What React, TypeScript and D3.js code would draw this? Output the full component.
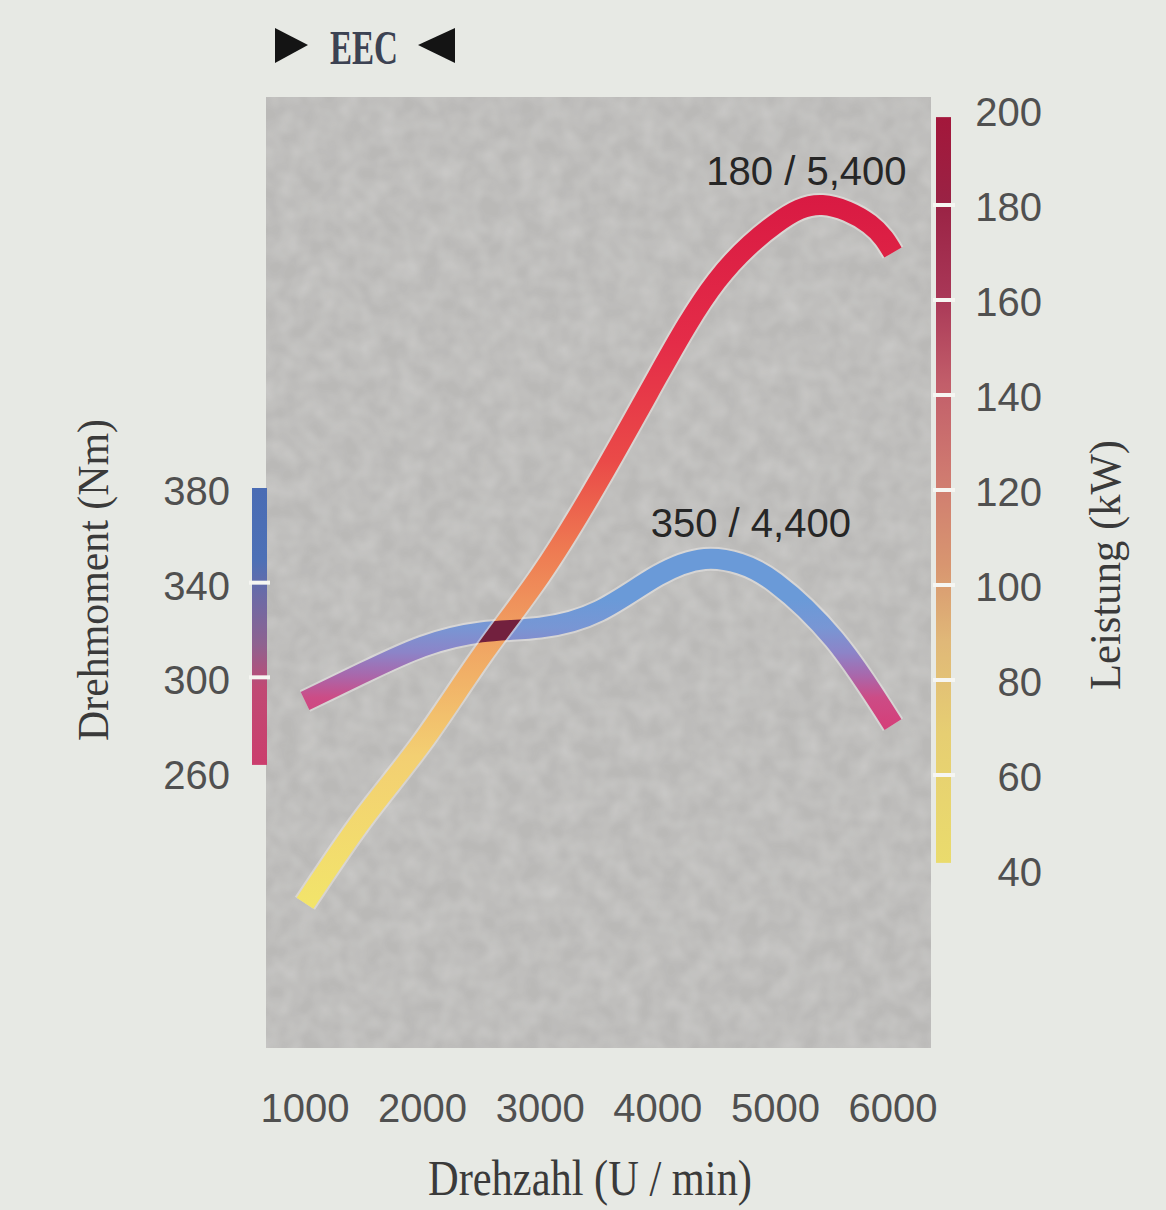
import React from 'react';
import * as d3 from 'd3';

// Drehzahl ticks
const rpmTicks = [1000, 2000, 3000, 4000, 5000, 6000];
const nmTicks = [260, 300, 340, 380];
const kwTicks = [40, 60, 80, 100, 120, 140, 160, 180, 200];

// Drehmoment (Nm) curve
const torqueRpm = [1000, 1500, 2000, 2500, 3000, 3500, 4000, 4400, 4700, 5000, 5500, 6000];
const torqueNm = [290, 302, 313, 319, 321, 328, 343, 350, 348, 340, 316, 280];

// Leistung (kW) curve
const powerRpm = [1000, 1500, 2000, 2500, 3000, 3500, 4000, 4500, 5000, 5400, 5800, 6000];
const powerKw = [33, 51, 67, 85, 102, 122, 144, 164, 176, 180, 176, 170];

const torquePeak = { rpm: 4400, value: 350, label: '350 / 4,400' };
const powerPeak = { rpm: 5400, value: 180, label: '180 / 5,400' };

const W = 1166;
const H = 1210;

export default function App() {
  const x = d3.scaleLinear().domain([1000, 6000]).range([305, 893]);
  const yL = d3.scaleLinear().domain([260, 380]).range([772, 488]);
  const yR = d3.scaleLinear().domain([40, 200]).range([870, 110]);

  const torqueLine = d3.line<number>()
    .x((_, i) => x(torqueRpm[i]))
    .y(d => yL(d))
    .curve(d3.curveNatural);
  const powerLine = d3.line<number>()
    .x((_, i) => x(powerRpm[i]))
    .y(d => yR(d))
    .curve(d3.curveNatural);

  const tD = torqueLine(torqueNm) || '';
  const pD = powerLine(powerKw) || '';

  const tickFont = { fontFamily: '"Liberation Sans", Arial, sans-serif', fontSize: 40, fill: '#505050' };
  const titleFont = { fontFamily: '"Liberation Serif", "Times New Roman", serif', fill: '#3a3a3a' };

  return (
    <svg width={W} height={H} style={{ position: 'absolute', left: 0, top: 0 }}>
      <defs>
        <linearGradient id="pGrad" gradientUnits="userSpaceOnUse" x1="0" y1={yR(30)} x2="0" y2={yR(185)}>
          <stop offset="0" stopColor="#f2e66a" />
          <stop offset="0.22" stopColor="#f3cf72" />
          <stop offset="0.38" stopColor="#f0a262" />
          <stop offset="0.5" stopColor="#ee7a52" />
          <stop offset="0.62" stopColor="#ea4a48" />
          <stop offset="0.78" stopColor="#e42c48" />
          <stop offset="1" stopColor="#d81842" />
        </linearGradient>
        <linearGradient id="tGrad" gradientUnits="userSpaceOnUse" x1="0" y1={725} x2="0" y2={600}>
          <stop offset="0" stopColor="#d4407a" />
          <stop offset="0.22" stopColor="#cc4c86" />
          <stop offset="0.4" stopColor="#a868ac" />
          <stop offset="0.58" stopColor="#8c84c8" />
          <stop offset="0.78" stopColor="#7896d4" />
          <stop offset="1" stopColor="#6a9ad8" />
        </linearGradient>
        <linearGradient id="rBar" gradientUnits="userSpaceOnUse" x1="0" y1={yR(40)} x2="0" y2={yR(200)}>
          <stop offset="0" stopColor="#eadc6c" />
          <stop offset="0.18" stopColor="#e6ce72" />
          <stop offset="0.3" stopColor="#e0b878" />
          <stop offset="0.4" stopColor="#d89670" />
          <stop offset="0.52" stopColor="#cf7a70" />
          <stop offset="0.64" stopColor="#c25e6a" />
          <stop offset="0.76" stopColor="#a83656" />
          <stop offset="0.88" stopColor="#9a2244" />
          <stop offset="1" stopColor="#a4163a" />
        </linearGradient>
        <linearGradient id="lBar" gradientUnits="userSpaceOnUse" x1="0" y1={yL(260)} x2="0" y2={yL(380)}>
          <stop offset="0" stopColor="#cc3c6c" />
          <stop offset="0.3" stopColor="#c04a74" />
          <stop offset="0.45" stopColor="#8e6290" />
          <stop offset="0.62" stopColor="#6c6aa6" />
          <stop offset="0.75" stopColor="#4c70b6" />
          <stop offset="1" stopColor="#4a6cb4" />
        </linearGradient>
        <filter id="grain" x="0" y="0" width="100%" height="100%">
          <feTurbulence type="fractalNoise" baseFrequency="0.05" numOctaves="2" seed="3" result="n" />
          <feColorMatrix in="n" type="matrix"
            values="0 0 0 0 0.86  0 0 0 0 0.86  0 0 0 0 0.85  0 0 0 0.6 -0.15" result="g" />
          <feComposite in="g" in2="SourceGraphic" operator="in" />
        </filter>
        <mask id="tMask">
          <rect x="0" y="0" width={W} height={H} fill="black" />
          <path d={tD} fill="none" stroke="white" strokeWidth={20} />
        </mask>
      </defs>

      <rect x={0} y={0} width={W} height={H} fill="#e7e9e4" />

      {/* EEC marker */}
      <path d="M275,28 L308,45 L275,63 Z" fill="#141414" />
      <text x={330} y={64} textLength={68} lengthAdjust="spacingAndGlyphs"
        style={{ ...titleFont, fontSize: 48, fontWeight: 'bold', fill: '#3c4252' }}>EEC</text>
      <path d="M455,28 L418,45 L455,63 Z" fill="#141414" />

      {/* plot area */}
      <rect x={266} y={97} width={665} height={951} fill="#bab9b7" />
      <rect x={266} y={97} width={665} height={951} fill="#bab9b7" filter="url(#grain)" opacity={0.7} />

      {/* colour scales */}
      <rect x={252} y={yL(380)} width={15} height={yL(263) - yL(380)} fill="url(#lBar)" />
      {[300, 340].map(v => (
        <line key={v} x1={249} x2={270} y1={yL(v)} y2={yL(v)} stroke="#f6f6f2" strokeWidth={4} />
      ))}
      <rect x={936} y={yR(198.5)} width={15} height={yR(41.5) - yR(198.5)} fill="url(#rBar)" />
      {kwTicks.filter(v => v > 40 && v < 200).map(v => (
        <line key={v} x1={933} x2={955} y1={yR(v)} y2={yR(v)} stroke="#f6f6f2" strokeWidth={4} />
      ))}

      {/* tick labels */}
      {nmTicks.map(v => (
        <text key={v} x={230} y={yL(v) + 3} textAnchor="end" dominantBaseline="central" style={tickFont}>{v}</text>
      ))}
      {kwTicks.map(v => (
        <text key={v} x={1042} y={yR(v) + 2} textAnchor="end" dominantBaseline="central" style={tickFont}>{v}</text>
      ))}
      {rpmTicks.map(v => (
        <text key={v} x={x(v)} y={1108} textAnchor="middle" dominantBaseline="central" style={tickFont}>{v}</text>
      ))}

      {/* axis titles */}
      <text transform="translate(108,580) rotate(-90)" textAnchor="middle" textLength={322}
        lengthAdjust="spacingAndGlyphs" style={{ ...titleFont, fontSize: 44 }}>Drehmoment (Nm)</text>
      <text transform="translate(1120,565) rotate(-90)" textAnchor="middle" textLength={250}
        lengthAdjust="spacingAndGlyphs" style={{ ...titleFont, fontSize: 44 }}>Leistung (kW)</text>
      <text x={590} y={1195} textAnchor="middle" textLength={324}
        lengthAdjust="spacingAndGlyphs" style={{ ...titleFont, fontSize: 50 }}>Drehzahl (U / min)</text>

      {/* curves */}
      <path d={tD} fill="none" stroke="#f2f0f0" strokeOpacity={0.45} strokeWidth={24} />
      <path d={tD} fill="none" stroke="url(#tGrad)" strokeWidth={20} />
      <path d={pD} fill="none" stroke="#f6f0ea" strokeOpacity={0.45} strokeWidth={24} />
      <path d={pD} fill="none" stroke="url(#pGrad)" strokeWidth={20} />
      <path d={pD} fill="none" stroke="#72203e" strokeWidth={20} mask="url(#tMask)" />

      {/* peak labels */}
      <text x={x(powerPeak.rpm) - 16} y={yR(powerPeak.value) - 20} textAnchor="middle"
        style={{ ...tickFont, fill: '#262626' }}>{powerPeak.label}</text>
      <text x={x(torquePeak.rpm) + 46} y={yL(torquePeak.value) - 22} textAnchor="middle"
        style={{ ...tickFont, fill: '#262626' }}>{torquePeak.label}</text>
    </svg>
  );
}
